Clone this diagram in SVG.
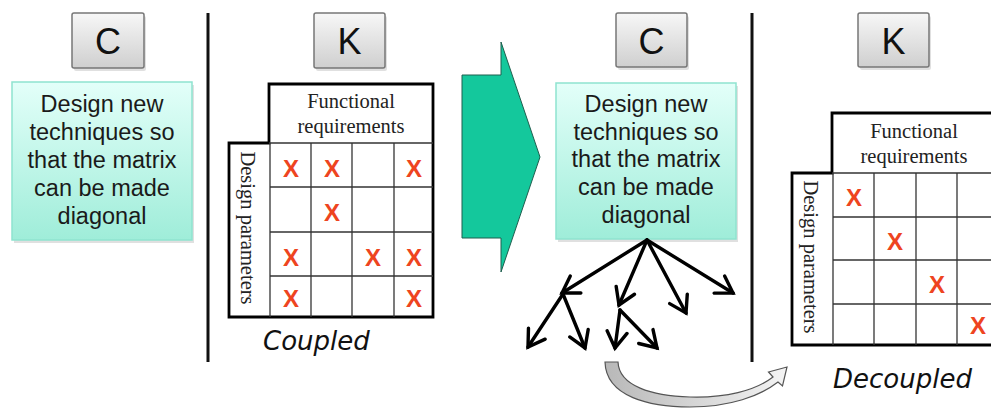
<svg xmlns="http://www.w3.org/2000/svg" width="991" height="408" viewBox="0 0 991 408">
<defs>
<linearGradient id="btn" x1="0" y1="0" x2="0" y2="1">
<stop offset="0" stop-color="#f7f7f7"/><stop offset="1" stop-color="#cfcfcf"/>
</linearGradient>
<linearGradient id="teal" x1="0" y1="0" x2="0" y2="1">
<stop offset="0" stop-color="#e3fff9"/><stop offset="1" stop-color="#9fedd9"/>
</linearGradient>
<linearGradient id="curve" x1="0" y1="0" x2="1" y2="0">
<stop offset="0" stop-color="#b8b8b8"/><stop offset="0.5" stop-color="#d6d6d6"/><stop offset="1" stop-color="#f4f4f4"/>
</linearGradient>
<marker id="chev" viewBox="0 0 24 24" refX="19" refY="12" markerWidth="24" markerHeight="24" markerUnits="userSpaceOnUse" orient="auto">
<polyline points="3,2 19,12 3,22" fill="none" stroke="#000" stroke-width="3.4" stroke-linejoin="miter" stroke-linecap="round"/>
</marker>
</defs>
<style>
.btn{fill:url(#btn);stroke:#777;stroke-width:1.5}
.shadow{fill:#000;opacity:0.12}
.btxt{font-family:"Liberation Sans",Arial,sans-serif;font-size:36px;fill:#111;text-anchor:middle}
.tbox{fill:url(#teal);stroke:#8fe3cf;stroke-width:1.5}
.ttxt{font-family:"Liberation Sans",Arial,sans-serif;font-size:23.5px;fill:#1a1a1a;text-anchor:middle}
.sep{stroke:#111;stroke-width:3}
.outer{fill:#fff;stroke:#000;stroke-width:2.8;stroke-linejoin:miter}
.grid{stroke:#333;stroke-width:1.3;fill:none}
.hdr{font-family:"Liberation Serif","Times New Roman",serif;font-size:20.5px;fill:#222;text-anchor:middle}
.x{font-family:"Liberation Sans",Arial,sans-serif;font-size:24px;font-weight:bold;fill:#ee4420;text-anchor:middle}
.cap{font-family:"Comic Sans MS","DejaVu Sans",sans-serif;font-style:italic;font-size:26px;fill:#111}
.tree{stroke:#000;stroke-width:3.4;fill:none;stroke-linecap:round;marker-end:url(#chev)}
</style>

<rect x="0" y="0" width="991" height="408" fill="#fff"/>

<g id="separators">
<line class="sep" x1="208" y1="13" x2="208" y2="362"/>
<line class="sep" x1="752" y1="13" x2="752" y2="362"/>
</g>

<g id="btnC1">
<rect class="shadow" x="74" y="16" width="72" height="55" rx="2"/>
<rect class="btn" x="72" y="13" width="72" height="55" rx="2"/>
<text class="btxt" x="108" y="54">C</text>
</g>
<g id="btnK1">
<rect class="shadow" x="316" y="16" width="71" height="55" rx="2"/>
<rect class="btn" x="314" y="13" width="71" height="55" rx="2"/>
<text class="btxt" x="349.5" y="54">K</text>
</g>
<g id="btnC2">
<rect class="shadow" x="618" y="16" width="71" height="54" rx="2"/>
<rect class="btn" x="616" y="13" width="71" height="54" rx="2"/>
<text class="btxt" x="651.5" y="54">C</text>
</g>
<g id="btnK2">
<rect class="shadow" x="860" y="16" width="71" height="54" rx="2"/>
<rect class="btn" x="858" y="13" width="71" height="54" rx="2"/>
<text class="btxt" x="893.5" y="54">K</text>
</g>

<g id="concept1">
<rect class="shadow" x="14" y="85" width="180" height="158"/>
<rect class="tbox" x="12" y="82" width="180" height="158"/>
<text class="ttxt" x="102" y="112">Design new</text>
<text class="ttxt" x="102" y="140">techniques so</text>
<text class="ttxt" x="102" y="168">that the matrix</text>
<text class="ttxt" x="102" y="196">can be made</text>
<text class="ttxt" x="102" y="224">diagonal</text>
</g>

<g id="concept2">
<rect class="shadow" x="558" y="86" width="180" height="156"/>
<rect class="tbox" x="556" y="83" width="180" height="156"/>
<text class="ttxt" x="646" y="112">Design new</text>
<text class="ttxt" x="646" y="140">techniques so</text>
<text class="ttxt" x="646" y="167">that the matrix</text>
<text class="ttxt" x="646" y="195">can be made</text>
<text class="ttxt" x="646" y="223">diagonal</text>
</g>

<g id="bigArrow">
<polygon points="462,75 501,75 501,42 540,157 501,272 501,238 462,238" fill="#14c89c" stroke="#1f5e4e" stroke-width="1"/>
</g>

<g id="matrixCoupled">
<path class="outer" d="M269,84 H433 V317 H229 V143 H269 Z"/>
<g class="grid">
<line x1="269" y1="143" x2="433" y2="143"/>
<line x1="270" y1="143" x2="270" y2="317"/>
<line x1="311" y1="143" x2="311" y2="317"/>
<line x1="352" y1="143" x2="352" y2="317"/>
<line x1="394" y1="143" x2="394" y2="317"/>
<line x1="270" y1="187" x2="433" y2="187"/>
<line x1="270" y1="232" x2="433" y2="232"/>
<line x1="270" y1="276" x2="433" y2="276"/>
</g>
<text class="hdr" x="351" y="108">Functional</text>
<text class="hdr" x="351" y="133">requirements</text>
<text class="hdr" transform="translate(241,228) rotate(90)">Design parameters</text>
<text class="x" x="291" y="177">X</text>
<text class="x" x="332" y="177">X</text>
<text class="x" x="414" y="177">X</text>
<text class="x" x="332" y="221">X</text>
<text class="x" x="291" y="266">X</text>
<text class="x" x="373" y="266">X</text>
<text class="x" x="414" y="266">X</text>
<text class="x" x="291" y="307">X</text>
<text class="x" x="414" y="307">X</text>
<text class="cap" x="263" y="350">Coupled</text>
</g>

<g id="matrixDecoupled">
<path class="outer" d="M832,113 H998 V345 H792 V173 H832 Z"/>
<g class="grid">
<line x1="832" y1="173" x2="998" y2="173"/>
<line x1="833" y1="173" x2="833" y2="345"/>
<line x1="874" y1="173" x2="874" y2="345"/>
<line x1="916" y1="173" x2="916" y2="345"/>
<line x1="957" y1="173" x2="957" y2="345"/>
<line x1="833" y1="217" x2="998" y2="217"/>
<line x1="833" y1="260" x2="998" y2="260"/>
<line x1="833" y1="304" x2="998" y2="304"/>
</g>
<text class="hdr" x="914" y="138">Functional</text>
<text class="hdr" x="914" y="163">requirements</text>
<text class="hdr" transform="translate(804,257) rotate(90)">Design parameters</text>
<text class="x" x="854" y="206">X</text>
<text class="x" x="895" y="250">X</text>
<text class="x" x="937" y="293">X</text>
<text class="x" x="978" y="334">X</text>
<text class="cap" x="833" y="388">Decoupled</text>
</g>

<g id="connectors">
<line class="tree" x1="647" y1="240" x2="562" y2="293"/>
<line class="tree" x1="647" y1="240" x2="619" y2="305"/>
<line class="tree" x1="647" y1="240" x2="686" y2="313"/>
<line class="tree" x1="647" y1="240" x2="733" y2="293"/>
<line class="tree" x1="563" y1="294" x2="528" y2="347"/>
<line class="tree" x1="563" y1="294" x2="585" y2="348"/>
<line class="tree" x1="620" y1="310" x2="615" y2="348"/>
<line class="tree" x1="620" y1="310" x2="657" y2="348"/>
<path d="M605,362 C606,397 650,407 690,407 C730,407 760,396 778,382 L782.5,386 L787,367 L768.5,372 L773,377 C755,391 725,398 690,397 C652,396 619,386 618,362 Z" fill="url(#curve)" stroke="#555" stroke-width="1.2"/>
</g>
</svg>
